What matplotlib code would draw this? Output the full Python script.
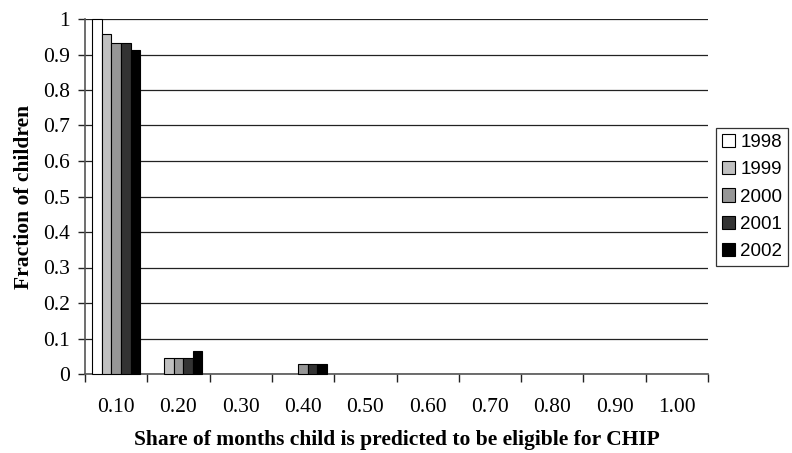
import numpy as np
import matplotlib
matplotlib.use("Agg")
import matplotlib.pyplot as plt

categories = ['0.10', '0.20', '0.30', '0.40', '0.50', '0.60', '0.70', '0.80', '0.90', '1.00']
years = ['1998', '1999', '2000', '2001', '2002']
share_1998 = [1.0, 0, 0, 0, 0, 0, 0, 0, 0, 0]
share_1999 = [0.957, 0.046, 0, 0, 0, 0, 0, 0, 0, 0]
share_2000 = [0.931, 0.046, 0, 0.027, 0, 0, 0, 0, 0, 0]
share_2001 = [0.931, 0.046, 0, 0.027, 0, 0, 0, 0, 0, 0]
share_2002 = [0.912, 0.066, 0, 0.027, 0, 0, 0, 0, 0, 0]
colors = ['#ffffff', '#c0c0c0', '#969696', '#333333', '#000000']

serif = ['Liberation Serif', 'DejaVu Serif']
sans = ['Liberation Sans', 'DejaVu Sans']

fig = plt.figure(figsize=(7.92, 4.53), dpi=100)
ax = fig.add_axes([85 / 792, 1 - 374 / 453, (708 - 85) / 792, (374 - 19) / 453])

series = [share_1998, share_1999, share_2000, share_2001, share_2002]
x = np.arange(len(categories))
group = 0.77
w = group / len(series)
for i, (vals, c, yr) in enumerate(zip(series, colors, years)):
    pos = x - group / 2 + w * (i + 0.5)
    v = np.array(vals)
    bars = ax.bar(pos[v > 0], v[v > 0], width=w, color=c, edgecolor='black',
                  linewidth=0.8, label=yr, zorder=3)
    for b in bars:
        b.set_clip_on(False)

ax.set_xlim(-0.5, len(categories) - 0.5)
ax.set_ylim(0, 1)
ax.set_yticks(np.arange(0, 1.01, 0.1))
ax.set_yticklabels(['0', '0.1', '0.2', '0.3', '0.4', '0.5', '0.6', '0.7', '0.8', '0.9', '1'],
                   family=serif, fontsize=15.5)
ax.yaxis.grid(True, color='#222222', linewidth=0.9, zorder=0)
ax.set_axisbelow(True)

ax.set_xticks(x)
ax.set_xticklabels(categories, family=serif, fontsize=15.5)
ax.tick_params(axis='x', which='major', length=0, pad=17)
ax.set_xticks(np.arange(-0.5, len(categories)), minor=True)
ax.tick_params(axis='x', which='minor', length=6, width=1, direction='out', color='#222222')
ax.tick_params(axis='y', length=5, width=1, direction='out', color='#222222', pad=6)

for s in ['top', 'right']:
    ax.spines[s].set_visible(False)
for s in ['left', 'bottom']:
    ax.spines[s].set_color('#555555')
    ax.spines[s].set_linewidth(1.2)

ax.set_ylabel('Fraction of children', family=serif, fontsize=15.5, fontweight='bold', labelpad=6)
ax.set_xlabel('Share of months child is predicted to be eligible for CHIP', family=serif,
              fontsize=15.5, fontweight='bold', labelpad=10)

leg = ax.legend(loc='center left', bbox_to_anchor=(716 / 792, 1 - 197 / 453),
                bbox_transform=fig.transFigure, prop={'family': sans, 'size': 13.5},
                frameon=True, fancybox=False, edgecolor='black', handlelength=0.7,
                handleheight=0.7, handletextpad=0.3, labelspacing=0.55, borderpad=0.3,
                borderaxespad=0)
leg.get_frame().set_linewidth(0.9)

fig.savefig('out.png', dpi=100)
